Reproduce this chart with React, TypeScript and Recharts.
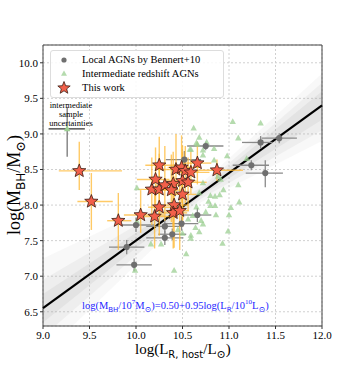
import {
  ComposedChart,
  Scatter,
  Area,
  XAxis,
  YAxis,
  CartesianGrid,
  ErrorBar,
  ReferenceLine,
  ReferenceArea,
} from "recharts";

// Local AGNs (Bennert+10)
const LOCAL_X = [11.34, 11.54, 11.24, 11.39, 10.75, 10.52, 10.66, 10.49, 10.31, 10.39, 10.31, 10.0, 9.9, 9.98];
const LOCAL_Y = [8.88, 8.94, 8.56, 8.45, 8.83, 8.64, 7.86, 7.74, 7.7, 7.59, 7.54, 7.72, 7.41, 7.16];
const LOCAL_XERR = [
  [0.2, 0.13], [0.19, 0.19], [0.2, 0.19], [0.21, 0.19], [0.2, 0.19], [0.2, 0.18], [0.16, 0.15],
  [0.18, 0.18], [0.2, 0.2], [0.15, 0.15], [0.2, 0.2], [0.16, 0.2], [0.19, 0.19], [0.19, 0.19],
];
const LOCAL_YERR = [
  [0.09, 0.09], [0.07, 0.07], [0.07, 0.07], [0.2, 0.18], [0.06, 0.06], [0.13, 0.12], [0.1, 0.1],
  [0.1, 0.1], [0.1, 0.1], [0.08, 0.08], [0.1, 0.1], [0.1, 0.1], [0.1, 0.1], [0.09, 0.09],
];

// Intermediate redshift AGNs
const INTER_X = [
  10.62, 11.04, 11.34, 10.68, 10.76, 10.66, 10.59, 10.72, 10.84, 11.1, 10.72, 10.84, 10.98, 11.19,
  10.91, 10.88, 10.94, 11.1, 10.72, 10.8, 10.85, 10.9, 10.68, 10.85, 10.65, 11.02, 11.11, 11.0,
  10.86, 10.7, 10.61, 10.72, 10.99, 10.93, 10.59, 10.54, 10.41, 9.99, 10.16, 10.27, 10.01, 10.01,
  10.59, 10.75, 10.8, 10.78, 10.64, 10.5, 10.45, 10.68, 10.56, 10.65, 10.58,
];
const INTER_Y = [
  9.08, 9.17, 9.15, 8.95, 8.88, 8.85, 8.78, 8.77, 8.79, 8.94, 8.7, 8.63, 8.69, 8.65,
  8.36, 8.4, 8.21, 8.28, 8.31, 8.13, 8.12, 8.14, 8.17, 7.99, 7.97, 7.96, 8.04, 7.86,
  7.86, 7.78, 7.85, 7.73, 7.63, 7.46, 7.57, 7.31, 7.08, 7.08, 7.45, 7.45, 8.24, 7.77,
  7.53, 7.9, 7.99, 8.05, 7.68, 7.6, 7.65, 7.62, 7.8, 8.87, 8.78,
];

// This work
const WORK_X = [
  9.39, 9.52, 9.81, 10.05, 10.2, 10.25, 10.17, 10.25, 10.21, 10.25, 10.31, 10.4, 10.38,
  10.5, 10.56, 10.5, 10.43, 10.49, 10.53, 10.59, 10.66, 10.87, 10.41, 10.4, 10.47,
];
const WORK_Y = [
  8.48, 8.05, 7.78, 7.86, 7.84, 7.97, 8.22, 8.22, 8.36, 8.56, 8.28, 8.3, 8.21,
  8.34, 8.32, 8.15, 8.5, 8.53, 8.48, 8.46, 8.59, 8.49, 8.0, 7.89, 7.92,
];
const WORK_XERR = [
  [0.22, 0.46], [0.15, 0.23], [0.12, 0.14], [0.18, 0.25], [0.15, 0.25], [0.12, 0.2], [0.15, 0.2],
  [0.1, 0.15], [0.2, 0.15], [0.15, 0.2], [0.1, 0.15], [0.15, 0.2], [0.2, 0.1], [0.2, 0.15],
  [0.1, 0.2], [0.15, 0.15], [0.2, 0.15], [0.15, 0.2], [0.1, 0.15], [0.15, 0.2], [0.15, 0.15],
  [0.2, 0.28], [0.1, 0.15], [0.15, 0.15], [0.15, 0.1],
];
const WORK_YERR = [
  [0.27, 0.41], [0.4, 0.4], [0.41, 0.39], [0.25, 0.35], [0.45, 0.35], [0.4, 0.4], [0.5, 0.45],
  [0.35, 0.5], [0.4, 0.45], [0.4, 0.4], [0.5, 0.55], [0.6, 0.45], [0.45, 0.5], [0.55, 0.5],
  [0.4, 0.35], [0.45, 0.6], [0.35, 0.5], [0.5, 0.45], [0.45, 0.35], [0.3, 0.3], [0.3, 0.3],
  [0.15, 0.15], [0.6, 0.4], [0.5, 0.5], [0.55, 0.35],
];

// typical uncertainty marker of the intermediate sample
const UNC_X = [9.26];
const UNC_Y = [9.07];
const UNC_XERR = [[0.2, 0.19]];
const UNC_YERR = [[0.39, 0.31]];

// best fit and its scatter band
const FIT_X = [9, 12];
const FIT_Y = [6.55, 9.4];
const BAND_X = [9, 10.7, 12];
const BAND_OUTER = [[5.9, 7.25], [8.04, 8.3], [8.9, 9.85]];
const BAND_MID = [[6.15, 6.95], [8.09, 8.25], [9.05, 9.72]];
const BAND_INNER = [[6.35, 6.75], [8.13, 8.21], [9.2, 9.6]];

const X_TICKS = [9.0, 9.5, 10.0, 10.5, 11.0, 11.5, 12.0];
const Y_TICKS = [6.5, 7.0, 7.5, 8.0, 8.5, 9.0, 9.5, 10.0];

const SERIF = "'Liberation Serif', 'DejaVu Serif', serif";
const SANS = "'DejaVu Sans', sans-serif";

const band = BAND_X.map((x, i) => ({
  x,
  outer: BAND_OUTER[i],
  mid: BAND_MID[i],
  inner: BAND_INNER[i],
}));
const local = LOCAL_X.map((x, i) => ({ x, y: LOCAL_Y[i], ex: LOCAL_XERR[i], ey: LOCAL_YERR[i] }));
const inter = INTER_X.map((x, i) => ({ x, y: INTER_Y[i] }));
const work = WORK_X.map((x, i) => ({ x, y: WORK_Y[i], ex: WORK_XERR[i], ey: WORK_YERR[i] }));
const unc = UNC_X.map((x, i) => ({ x, y: UNC_Y[i], ex: UNC_XERR[i], ey: UNC_YERR[i] }));

function starPoints(cx: number, cy: number, ro: number, ri: number) {
  const pts: string[] = [];
  for (let i = 0; i < 10; i++) {
    const r = i % 2 ? ri : ro;
    const a = ((-90 + i * 36) * Math.PI) / 180;
    pts.push(`${cx + r * Math.cos(a)},${cy + r * Math.sin(a)}`);
  }
  return pts.join(" ");
}

const StarShape = (p: any) => (
  <polygon points={starPoints(p.cx, p.cy, 7, 3)} fill="#f2604a" stroke="#3b1c12" strokeWidth={0.8} />
);
const TriShape = (p: any) => (
  <polygon
    points={`${p.cx},${p.cy - 3.6} ${p.cx - 3.2},${p.cy + 2.2} ${p.cx + 3.2},${p.cy + 2.2}`}
    fill="#9ccf93"
    fillOpacity={0.75}
  />
);
const UncShape = (p: any) => (
  <polygon
    points={`${p.cx},${p.cy - 3.6} ${p.cx - 3.2},${p.cy + 2.2} ${p.cx + 3.2},${p.cy + 2.2}`}
    fill="#9ccf93"
  />
);
const DotShape = (p: any) => <circle cx={p.cx} cy={p.cy} r={3.1} fill="#6f6f6f" />;

export default function App() {
  return (
    <div style={{ position: "absolute", left: 0, top: 0, width: 358, height: 374, background: "#fff" }}>
      <ComposedChart
        width={358}
        height={374}
        data={band}
        margin={{ top: 45, right: 36, left: 13, bottom: 28 }}
      >
        <CartesianGrid stroke="#d0d0d0" strokeDasharray="2 2" />
        <XAxis
          dataKey="x"
          type="number"
          domain={[9, 12]}
          ticks={X_TICKS}
          tickFormatter={(v: number) => v.toFixed(1)}
          height={20}
          tickSize={3}
          axisLine={false}
          tickLine={{ stroke: "#333" }}
          tick={{ fontSize: 11, fill: "#000", fontFamily: SERIF }}
          allowDataOverflow
        />
        <YAxis
          dataKey="y"
          type="number"
          domain={[6.3, 10.25]}
          ticks={Y_TICKS}
          tickFormatter={(v: number) => v.toFixed(1)}
          width={30}
          tickSize={3}
          axisLine={false}
          tickLine={{ stroke: "#333" }}
          tick={{ fontSize: 11, fill: "#000", fontFamily: SERIF }}
          allowDataOverflow
        />
        <Area dataKey="outer" type="linear" stroke="none" fill="#a0a0a0" fillOpacity={0.08} isAnimationActive={false} />
        <Area dataKey="mid" type="linear" stroke="none" fill="#a0a0a0" fillOpacity={0.1} isAnimationActive={false} />
        <Area dataKey="inner" type="linear" stroke="none" fill="#a0a0a0" fillOpacity={0.14} isAnimationActive={false} />
        <ReferenceLine
          segment={[
            { x: FIT_X[0], y: FIT_Y[0] },
            { x: FIT_X[1], y: FIT_Y[1] },
          ]}
          stroke="#000"
          strokeWidth={2.2}
        />
        <Scatter data={inter} shape={TriShape} isAnimationActive={false} legendType="none" />
        <Scatter data={local} shape={DotShape} isAnimationActive={false} legendType="none">
          <ErrorBar dataKey="ex" direction="x" width={0} stroke="#8a8a8a" strokeWidth={1.3} />
          <ErrorBar dataKey="ey" direction="y" width={0} stroke="#8a8a8a" strokeWidth={1.3} />
        </Scatter>
        <Scatter data={unc} shape={UncShape} isAnimationActive={false} legendType="none">
          <ErrorBar dataKey="ex" direction="x" width={0} stroke="#333" strokeWidth={1.2} />
          <ErrorBar dataKey="ey" direction="y" width={0} stroke="#777" strokeWidth={1.3} />
        </Scatter>
        <Scatter data={work} shape={StarShape} isAnimationActive={false} legendType="none">
          <ErrorBar dataKey="ex" direction="x" width={0} stroke="#ffb833" strokeOpacity={0.75} strokeWidth={1.4} />
          <ErrorBar dataKey="ey" direction="y" width={0} stroke="#ffb833" strokeOpacity={0.75} strokeWidth={1.4} />
        </Scatter>
        <ReferenceArea x1={9} x2={12} y1={6.3} y2={10.25} fill="none" stroke="#444" strokeWidth={1} />
      </ComposedChart>

      {/* legend */}
      <div
        style={{
          position: "absolute",
          left: 50,
          top: 50,
          width: 172,
          height: 46,
          border: "1px solid #ddd",
          borderRadius: 3,
          background: "rgba(255,255,255,0.85)",
          fontFamily: SERIF,
          fontSize: 10.5,
          lineHeight: "14px",
          color: "#000",
        }}
      >
        {[
          { label: "Local AGNs by Bennert+10", icon: <circle cx={8} cy={7} r={2.6} fill="#6f6f6f" /> },
          {
            label: "Intermediate redshift AGNs",
            icon: <polygon points="8,3.5 5,8.8 11,8.8" fill="#9ccf93" fillOpacity={0.75} />,
          },
          {
            label: "This work",
            icon: <polygon points={starPoints(8, 7, 6.5, 2.8)} fill="#f2604a" stroke="#3b1c12" strokeWidth={0.8} />,
          },
        ].map((it, i) => (
          <div key={i} style={{ display: "flex", alignItems: "center", height: 14, marginTop: i === 0 ? 2 : 0 }}>
            <svg width={16} height={14} style={{ marginLeft: 5, marginRight: 10 }}>
              {it.icon}
            </svg>
            <span style={{ whiteSpace: "nowrap" }}>{it.label}</span>
          </div>
        ))}
      </div>

      {/* uncertainty annotation */}
      <div
        style={{
          position: "absolute",
          left: 40,
          top: 101,
          width: 62,
          textAlign: "center",
          fontFamily: SERIF,
          fontSize: 8.5,
          lineHeight: "9px",
          color: "#000",
        }}
      >
        intermediate
        <br />
        sample
        <br />
        uncertainties
      </div>

      {/* fit relation */}
      <div
        style={{
          position: "absolute",
          left: 82,
          top: 298,
          fontFamily: SERIF,
          fontSize: 10.5,
          color: "#1f1fff",
          whiteSpace: "nowrap",
        }}
      >
        log(M<sub style={{ fontFamily: SANS, fontSize: 7 }}>BH</sub>/10<sup style={{ fontSize: 7 }}>7</sup>M
        <sub style={{ fontSize: 8 }}>⊙</sub>)=0.50+0.95log(L<sub style={{ fontFamily: SANS, fontSize: 7 }}>R</sub>/10
        <sup style={{ fontSize: 7 }}>10</sup>L<sub style={{ fontSize: 8 }}>⊙</sub>)
      </div>

      {/* x axis label */}
      <div
        style={{
          position: "absolute",
          left: 135,
          top: 341,
          fontFamily: SERIF,
          fontSize: 15,
          lineHeight: "17px",
          color: "#000",
          whiteSpace: "nowrap",
        }}
      >
        log(L<sub style={{ fontFamily: SANS, fontSize: 10, lineHeight: 0 }}>R, host</sub>/L
        <sub style={{ fontSize: 11, lineHeight: 0 }}>⊙</sub>)
      </div>

      {/* y axis label */}
      <div
        style={{
          position: "absolute",
          left: 14,
          top: 185,
          transform: "translate(-50%, -50%) rotate(-90deg)",
          fontFamily: SERIF,
          fontSize: 18,
          lineHeight: "20px",
          color: "#000",
          whiteSpace: "nowrap",
        }}
      >
        log(M<sub style={{ fontFamily: SANS, fontSize: 12, lineHeight: 0 }}>BH</sub>/M
        <sub style={{ fontSize: 13, lineHeight: 0 }}>⊙</sub>)
      </div>
    </div>
  );
}
